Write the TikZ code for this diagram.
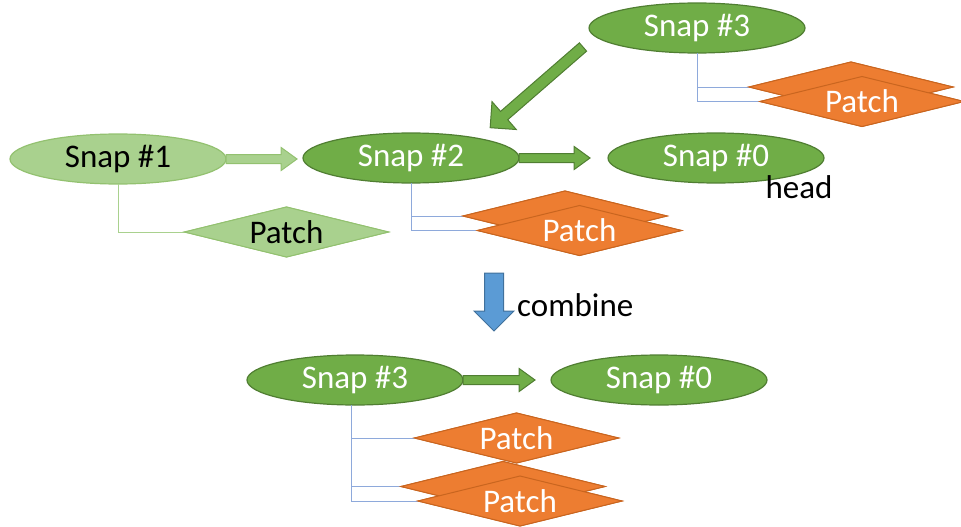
\documentclass[tikz,border=0pt]{standalone}
\usepackage{fontspec}
\setmainfont{Carlito}
\usetikzlibrary{shapes.geometric,shapes.arrows}
\definecolor{gfill}{HTML}{70AD47}
\definecolor{gline}{HTML}{507E32}
\definecolor{lgfill}{HTML}{A9D18E}
\definecolor{lgline}{HTML}{93C170}
\definecolor{ofill}{HTML}{ED7D31}
\definecolor{oline}{HTML}{C9651F}
\definecolor{bfill}{HTML}{5B9BD5}
\definecolor{bline}{HTML}{41719C}
\definecolor{cline}{HTML}{8EA9DB}
\tikzset{
  txt/.style={font=\fontsize{33}{34}\selectfont},
  snap/.style={ellipse, draw=gline, fill=gfill, line width=1.2pt, minimum width=216pt, minimum height=50pt, inner sep=0pt, outer sep=0pt, text=white, txt},
  lsnap/.style={snap, draw=lgline, fill=lgfill, text=black},
  patch/.style={diamond, draw=oline, fill=ofill, line width=1pt, minimum width=204pt, minimum height=50pt, inner sep=0pt, outer sep=0pt},
  lpatch/.style={patch, draw=lgline, fill=lgfill},
  ptext/.style={label={[text=white, txt, inner sep=0pt]center:Patch}},
  lptext/.style={label={[text=black, txt, inner sep=0pt]center:Patch}},
  conn/.style={draw=cline, line width=0.9pt},
  lconn/.style={draw=lgfill, line width=1pt},
  barrow/.style={single arrow, draw=gline, fill=gfill, line width=1pt, inner xsep=0pt, inner ysep=4pt, outer sep=0pt, anchor=tail, minimum width=23pt, single arrow head extend=7pt, single arrow tip angle=72},
  lbarrow/.style={barrow, draw=lgline, fill=lgfill},
  lbl/.style={text=black, txt, inner sep=0pt}
}
\begin{document}
\begin{tikzpicture}[x=1pt, y=-1pt]
\useasboundingbox (0,0) rectangle (961,527);
% top row
\node[lsnap] (s1) at (118,159) {Snap \#1};
\node[snap] (s2) at (411,158) {Snap \#2};
\node[snap] (s0) at (716,158) {Snap \#0};
\node[snap] (s3) at (697,28) {Snap \#3};
\node[lbl] (head) at (799,187) {head};
% patch positions
\coordinate (p1c) at (286.5,232);
\coordinate (p2bc) at (565,216);
\coordinate (p2fc) at (579.5,230.5);
\coordinate (p3bc) at (851,87);
\coordinate (p3fc) at (862,101.5);
\node[lpatch] (p1) at (p1c) {};
\node[patch] (p2b) at (p2bc) {};
\node[patch] (p2f) at (p2fc) {};
\node[patch] (p3b) at (p3bc) {};
\node[patch] (p3f) at (p3fc) {};
% connectors
\draw[lconn] (s1.south) |- (p1.west);
\draw[conn] (s2.south) |- (p2b.west);
\draw[conn] (s2.south) |- (p2f.west);
\draw[conn] (s3.south) |- (p3b.west);
\draw[conn] (s3.south) |- (p3f.west);
% patches drawn over connectors
\node[lpatch, lptext] at (p1c) {};
\node[patch] at (p2bc) {};
\node[patch, ptext] at (p2fc) {};
\node[patch] at (p3bc) {};
\node[patch, ptext] at (p3fc) {};
% arrows top
\node[lbarrow, minimum height=71pt] (a1) at (s1.east) {};
\node[barrow, minimum height=71pt] (a2) at (s2.east) {};
\coordinate (dstart) at (583,47);
\node[barrow, rotate=221, inner ysep=5pt, minimum height=123pt, minimum width=36pt, single arrow head extend=13pt, single arrow tip angle=90] (a3) at (dstart) {};
% combine arrow
\coordinate (cstart) at (494,273);
\node[single arrow, draw=bline, fill=bfill, line width=1pt, inner xsep=0pt, inner ysep=9pt, outer sep=0pt, anchor=tail, rotate=-90, minimum height=58pt, minimum width=39pt, single arrow head extend=10.5pt, single arrow tip angle=90] (ca) at (cstart) {};
\node[lbl, anchor=west] (comb) at (517,305) {combine};
% bottom row
\node[snap] (b3) at (355,380) {Snap \#3};
\node[snap] (b0) at (659,380) {Snap \#0};
\node[barrow, minimum height=72pt] (a4) at (b3.east) {};
\coordinate (q1c) at (516.5,438);
\coordinate (q2bc) at (503,486.5);
\coordinate (q2fc) at (520,501);
\node[patch] (q1) at (q1c) {};
\node[patch] (q2b) at (q2bc) {};
\node[patch] (q2f) at (q2fc) {};
\coordinate (bstem) at ([xshift=-4pt]b3.south);
\draw[conn] (bstem) |- (q1.west);
\draw[conn] (bstem) |- (q2b.west);
\draw[conn] (bstem) |- (q2f.west);
\node[patch, ptext] at (q1c) {};
\node[patch] at (q2bc) {};
\node[patch, ptext] at (q2fc) {};
\end{tikzpicture}
\end{document}
